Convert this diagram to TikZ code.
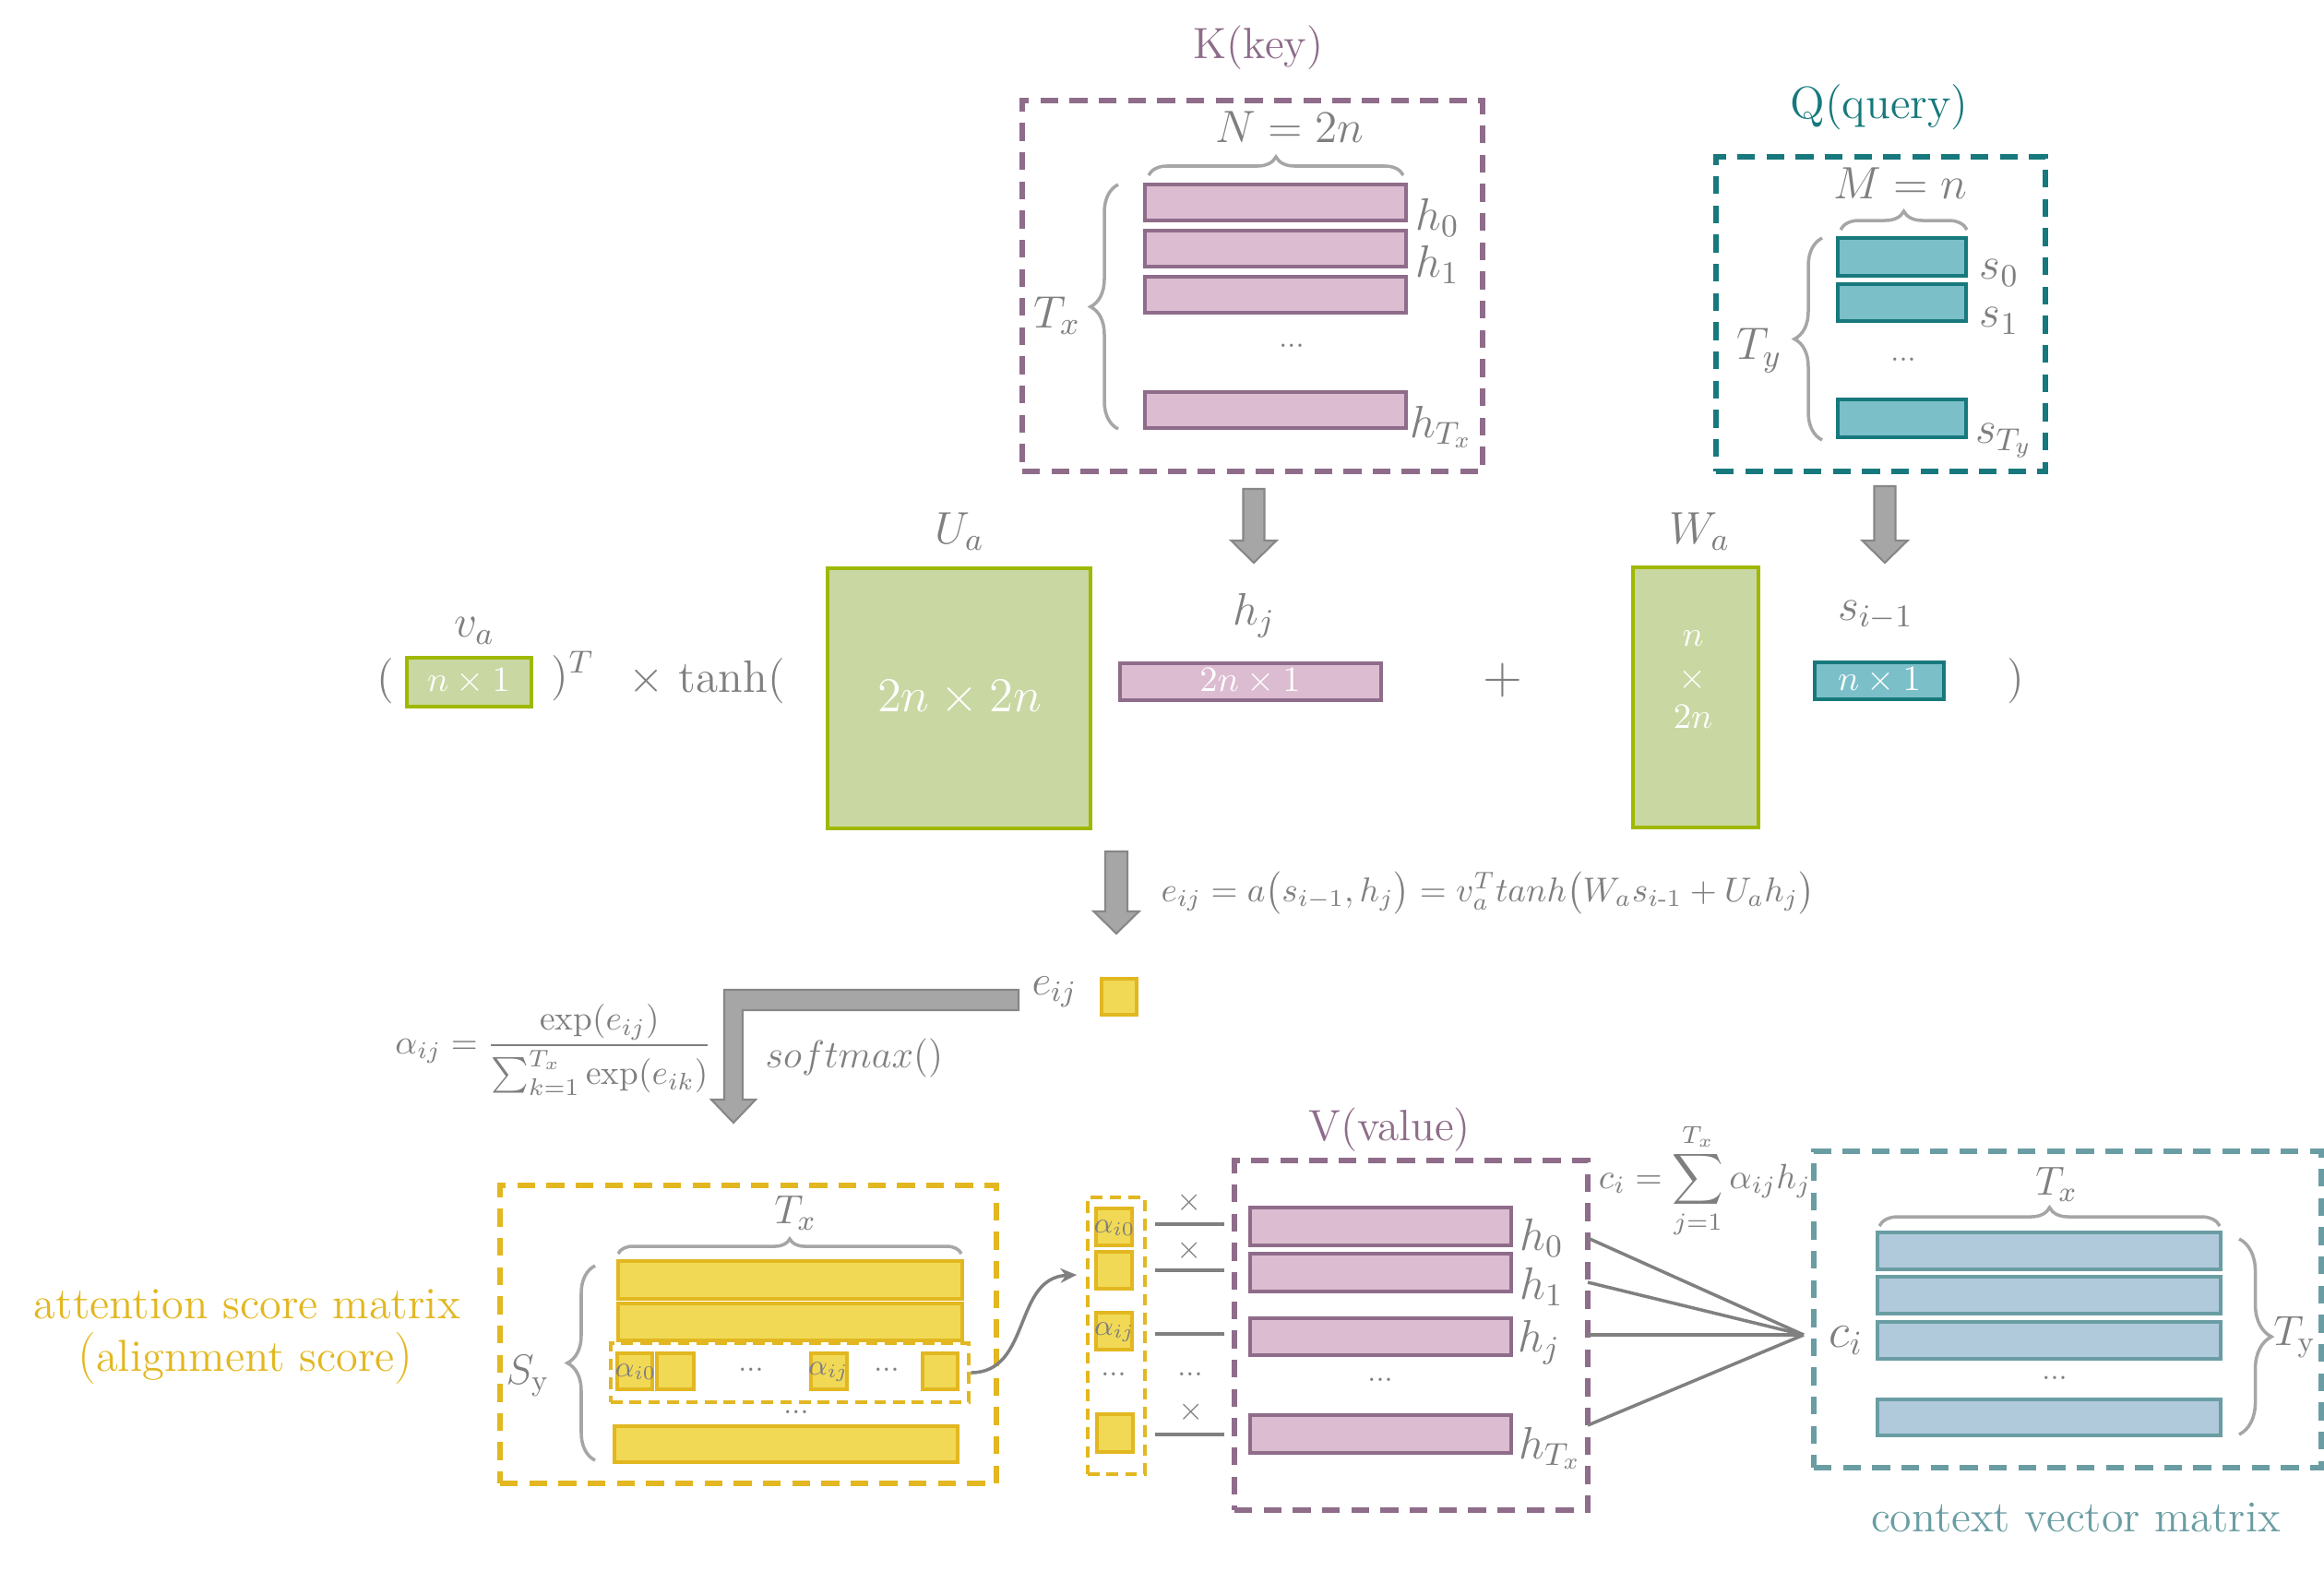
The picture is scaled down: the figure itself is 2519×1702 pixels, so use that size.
\RequirePackage{fix-cm}
\documentclass[tikz,border=0pt]{standalone}
\usepackage{amsmath}
\usepackage{fontspec}
\usetikzlibrary{fit,decorations.pathreplacing,arrows.meta}
\definecolor{txtgray}{HTML}{7F7F7F}
\definecolor{kpurple}{HTML}{8E6C8A}
\definecolor{kpink}{HTML}{DCBCD0}
\definecolor{qteal}{HTML}{17797D}
\definecolor{qfill}{HTML}{7BBFC9}
\definecolor{ggreen}{HTML}{9FB800}
\definecolor{gfill}{HTML}{C9D7A2}
\definecolor{yborder}{HTML}{E2B720}
\definecolor{yfill}{HTML}{F1D955}
\definecolor{cteal}{HTML}{6A9DA3}
\definecolor{cfill}{HTML}{B0CADB}
\definecolor{arrgray}{HTML}{A6A6A6}
\definecolor{arredge}{HTML}{878787}
\definecolor{bracegray}{HTML}{A6A6A6}
\definecolor{linegray}{HTML}{808080}
\newcommand\fsz[1]{\fontsize{#1}{#1}\selectfont}
\begin{document}
\begin{tikzpicture}[x=0.01cm,y=-0.01cm,
  lbl/.style={text=txtgray,inner sep=0pt},
  dboxk/.style={draw=kpurple,line width=1.5pt,dash pattern=on 5.5pt off 3.5pt,inner sep=0pt},
  dboxq/.style={draw=qteal,line width=1.5pt,dash pattern=on 5.5pt off 3.5pt,inner sep=0pt},
  dboxy/.style={draw=yborder,line width=1.5pt,dash pattern=on 5.5pt off 3.5pt,inner sep=0pt},
  dboxys/.style={draw=yborder,line width=1.3pt,dash pattern=on 3.6pt off 2.2pt,inner sep=0pt},
  dboxc/.style={draw=cteal,line width=1.5pt,dash pattern=on 5.5pt off 3.5pt,inner sep=0pt},
  krow/.style={draw=kpurple,fill=kpink,line width=1pt,inner sep=0pt},
  qrow/.style={draw=qteal,fill=qfill,line width=1pt,inner sep=0pt},
  gbox/.style={draw=ggreen,fill=gfill,line width=1pt,inner sep=0pt},
  yrow/.style={draw=yborder,fill=yfill,line width=1pt,inner sep=0pt},
  crow/.style={draw=cteal,fill=cfill,line width=1pt,inner sep=0pt},
  wtxt/.style={text=white,inner sep=0pt,font=\fsz{11}},
  brc/.style={draw=bracegray,line width=1pt,decorate,decoration={brace,amplitude=#1}},
  barrow/.style={fill=arrgray,draw=arredge,line width=0.6pt},
  conn/.style={draw=linegray,line width=1pt},
  dotsl/.style={text=txtgray,inner sep=0pt,font=\fsz{9}}
]
\useasboundingbox (0,0) rectangle (2519,1702);

% ---------------- K (key) ----------------
\node[lbl,font=\fsz{13.5},text=kpurple] (ktitle) at (1364,52) {K(key)};
\node[dboxk,fit={(1108,109) (1607,511)}] (kbox) {};
\node[lbl,font=\fsz{14}] (kN) at (1398,138) {$N=2n$};
\draw[brc=0.2cm] (1245,190) -- (1521,190);
\node[krow,fit={(1241,200) (1524,239)}] (k0) {};
\node[krow,fit={(1241,250) (1524,289)}] (k1) {};
\node[krow,fit={(1241,300) (1524,339)}] (k2) {};
\node[krow,fit={(1241,425) (1524,464)}] (kT) {};
\node[dotsl] (kdots) at (1400,375) {...};
\node[lbl,font=\fsz{14}] (kh0) at (1558,236) {$h_0$};
\node[lbl,font=\fsz{14}] (kh1) at (1558,287) {$h_1$};
\node[lbl,font=\fsz{14}] (khT) at (1562,463) {$h_{T_x}$};
\draw[brc=0.3cm] (1212,465) -- (1212,200);
\node[lbl,font=\fsz{14}] (kTx) at (1146,342) {$T_x$};

% ---------------- Q (query) ----------------
\node[lbl,font=\fsz{14},text=qteal] (qtitle) at (2037,116) {Q(query)};
\node[dboxq,fit={(1860,170) (2217,511)}] (qbox) {};
\node[lbl,font=\fsz{14}] (qM) at (2060,199) {$M=n$};
\draw[brc=0.2cm] (1995,249) -- (2132,249);
\node[qrow,fit={(1992,258) (2131,299)}] (q0) {};
\node[qrow,fit={(1992,308) (2131,348)}] (q1) {};
\node[qrow,fit={(1992,433) (2131,474)}] (qT) {};
\node[dotsl] (qdots) at (2063,390) {...};
\node[lbl,font=\fsz{14}] (qs0) at (2167,296) {$s_0$};
\node[lbl,font=\fsz{14}] (qs1) at (2167,348) {$s_1$};
\node[lbl,font=\fsz{14}] (qsT) at (2172,478) {$s_{T_y}$};
\draw[brc=0.3cm] (1975,477) -- (1975,258);
\node[lbl,font=\fsz{14}] (qTy) at (1907,380) {$T_y$};

% ---------------- block arrows ----------------
\path[barrow] (1347.5,530) -- (1370.5,530) -- (1370.5,586) -- (1383.5,586) -- (1359,610) -- (1334.5,586) -- (1347.5,586) -- cycle;
\path[barrow] (2031.5,527) -- (2054.5,527) -- (2054.5,586) -- (2067.5,586) -- (2043,610) -- (2018.5,586) -- (2031.5,586) -- cycle;
\path[barrow] (1198,923) -- (1222,923) -- (1222,988) -- (1234.5,988) -- (1210,1012) -- (1185.5,988) -- (1198,988) -- cycle;
\path[barrow] (1104,1073) -- (785,1073) -- (785,1192) -- (771,1192) -- (795,1217) -- (819,1192) -- (805,1192) -- (805,1095) -- (1104,1095) -- cycle;

% ---------------- score expression ----------------
\node[lbl,font=\fsz{14}] (lpar) at (418,738) {(};
\node[lbl,font=\fsz{14}] (vlab) at (514,684) {$v_a$};
\node[gbox,fit={(441,713) (576,766)}] (va) {};
\node[wtxt] (vat) at (508,739) {$n\times 1$};
\node[lbl,font=\fsz{14}] (rparT) at (621,733) {)$^T$};
\node[lbl,font=\fsz{14}] (tanh) at (766,738) {$\times$ tanh(};
\node[lbl,font=\fsz{14}] (ulab) at (1040,576) {$U_a$};
\node[gbox,fit={(897,616) (1182,898)}] (ua) {};
\node[text=white,inner sep=0pt,font=\fsz{15}] (uat) at (1040,757) {$2n\times 2n$};
\node[lbl,font=\fsz{14}] (hjlab) at (1359,667) {$h_j$};
\node[krow,fit={(1214,719) (1497,759)}] (hj) {};
\node[wtxt] (hjt) at (1355,739) {$2n\times 1$};
\node[lbl,font=\fsz{16}] (plus) at (1629,737) {$+$};
\node[lbl,font=\fsz{14}] (wlab) at (1842,576) {$W_a$};
\node[gbox,fit={(1770,615) (1906,897)}] (wa) {};
\node[wtxt] (wa1) at (1835,692) {$n$};
\node[wtxt] (wa2) at (1835,737) {$\times$};
\node[wtxt] (wa3) at (1835,777) {$2n$};
\node[lbl,font=\fsz{14}] (slab) at (2033,667) {$s_{i-1}$};
\node[qrow,fit={(1967,718) (2107,758)}] (si) {};
\node[wtxt] (sit) at (2037,738) {$n\times 1$};
\node[lbl,font=\fsz{14}] (rpar) at (2185,738) {)};

\node[lbl,font=\fsz{10.6},anchor=west] (eeq) at (1258,968)
  {$e_{ij}=a\bigl(s_{i-1},h_j\bigr)=v_a^{T}tanh\bigl(W_a s_{i\text{-}1}+U_a h_j\bigr)$};

% ---------------- softmax ----------------
\node[lbl,font=\fsz{10.6}] (alpha) at (600,1138)
  {$\alpha_{ij}=\dfrac{\exp(e_{ij})}{\textstyle\sum_{k=1}^{T_x}\exp(e_{ik})}$};
\node[lbl,font=\fsz{12}] (softmax) at (926,1147) {$softmax()$};
\node[lbl,font=\fsz{13}] (eijlab) at (1143,1075) {$e_{ij}$};
\node[yrow,fit={(1194,1061) (1232,1100)}] (esq) {};

% ---------------- attention score matrix ----------------
\node[inner sep=0pt,text=yborder,font=\fsz{13.8}] (atxt1) at (268,1414) {attention score matrix};
\node[inner sep=0pt,text=yborder,font=\fsz{13.8}] (atxt2) at (266,1472) {{\fsz{16}(}alignment score{\fsz{16})}};
\node[dboxy,fit={(542,1285) (1080,1608)}] (abox) {};
\node[lbl,font=\fsz{12.5}] (aTx) at (862,1315) {$T_x$};
\draw[brc=0.16cm] (670,1359) -- (1042,1359);
\node[yrow,fit={(670,1367) (1043,1408)}] (a0) {};
\node[yrow,fit={(670,1413) (1043,1453)}] (a1) {};
\node[dboxys,fit={(662,1456) (1050,1520)}] (arow) {};
\node[yrow,fit={(669,1467) (707,1506)}] (ac0) {};
\node[lbl,font=\fsz{9}] (ac0t) at (689,1487) {$\alpha_{i0}$};
\node[yrow,fit={(712,1467) (752,1506)}] (ac1) {};
\node[dotsl] (acd1) at (814,1485) {...};
\node[yrow,fit={(879,1467) (918,1506)}] (acj) {};
\node[lbl,font=\fsz{9}] (acjt) at (898,1487) {$\alpha_{ij}$};
\node[dotsl] (acd2) at (961,1485) {...};
\node[yrow,fit={(1000,1467) (1038,1506)}] (acL) {};
\node[dotsl] (adots) at (863,1531) {...};
\node[yrow,fit={(666,1546) (1038,1585)}] (aL) {};
\draw[brc=0.3cm] (645,1583) -- (645,1372);
\node[lbl,font=\fsz{13}] (aSy) at (572,1492) {$S_{\mathrm{y}}$};

% ---------------- alpha column ----------------
\coordinate (ctip) at (1167,1382);
\draw[conn,-{Stealth[length=5pt,width=4.5pt]}] (arow.east) .. controls (1118,1488) and (1098,1385) .. (ctip);
\node[dboxys,fit={(1179,1298) (1241,1598)}] (colbox) {};
\node[yrow,fit={(1188,1310) (1227,1350)}] (cv0) {};
\node[lbl,font=\fsz{9}] (cv0t) at (1208,1331) {$\alpha_{i0}$};
\node[yrow,fit={(1188,1357) (1227,1397)}] (cv1) {};
\node[yrow,fit={(1188,1423) (1227,1463)}] (cvj) {};
\node[lbl,font=\fsz{9}] (cvjt) at (1208,1444) {$\alpha_{ij}$};
\node[dotsl] (cvd) at (1207,1490) {...};
\node[yrow,fit={(1189,1533) (1228,1574)}] (cvL) {};
\node[lbl,font=\fsz{10}] (x0) at (1289,1304) {$\times$};
\node[lbl,font=\fsz{10}] (x1) at (1289,1356) {$\times$};
\node[lbl,font=\fsz{10}] (x3) at (1291,1531) {$\times$};
\node[dotsl] (xd) at (1290,1490) {...};
\coordinate (m0a) at (1252,1327); \coordinate (m0b) at (1327,1327);
\coordinate (m1a) at (1252,1377); \coordinate (m1b) at (1327,1377);
\coordinate (m2a) at (1252,1446); \coordinate (m2b) at (1327,1446);
\coordinate (m3a) at (1252,1555); \coordinate (m3b) at (1327,1555);
\draw[conn] (m0a) -- (m0b);
\draw[conn] (m1a) -- (m1b);
\draw[conn] (m2a) -- (m2b);
\draw[conn] (m3a) -- (m3b);

% ---------------- V (value) ----------------
\node[lbl,font=\fsz{13.5},text=kpurple] (vtitle) at (1506,1225) {V(value)};
\node[dboxk,fit={(1338,1258) (1721,1637)}] (vbox) {};
\node[krow,fit={(1355,1309) (1638,1350)}] (v0) {};
\node[krow,fit={(1355,1359) (1638,1400)}] (v1) {};
\node[krow,fit={(1355,1429) (1638,1469)}] (vj) {};
\node[krow,fit={(1355,1534) (1638,1575)}] (vT) {};
\node[dotsl] (vdots) at (1496,1496) {...};
\node[lbl,font=\fsz{14}] (vh0) at (1671,1342) {$h_0$};
\node[lbl,font=\fsz{14}] (vh1) at (1671,1395) {$h_1$};
\node[lbl,font=\fsz{14}] (vhj) at (1668,1455) {$h_j$};
\node[lbl,font=\fsz{14}] (vhT) at (1680,1570) {$h_{T_x}$};
\coordinate (conv) at (1955,1447);
\coordinate (e0) at (1721,1342);
\coordinate (e1) at (1721,1390);
\coordinate (e2) at (1721,1447);
\coordinate (e3) at (1721,1545);
\draw[conn] (e0) -- (conv);
\draw[conn] (e1) -- (conv);
\draw[conn] (e2) -- (conv);
\draw[conn] (e3) -- (conv);
\node[lbl,font=\fsz{10.8}] (cieq) at (1848,1280) {$\displaystyle c_i=\sum_{j=1}^{T_x}\alpha_{ij}h_j$};

% ---------------- context vector matrix ----------------
\node[dboxc,fit={(1966,1248) (2516,1591)}] (cbox) {};
\node[lbl,font=\fsz{12.5}] (cTx) at (2229,1284) {$T_x$};
\draw[brc=0.2cm] (2037,1329) -- (2406,1329);
\node[crow,fit={(2035,1336) (2407,1376)}] (c0) {};
\node[crow,fit={(2035,1384) (2407,1424)}] (c1) {};
\node[crow,fit={(2035,1433) (2407,1473)}] (c2) {};
\node[dotsl] (cdots) at (2227,1494) {...};
\node[crow,fit={(2035,1517) (2407,1556)}] (cL) {};
\node[lbl,font=\fsz{15}] (cci) at (2001,1453) {$c_i$};
\draw[brc=0.35cm] (2427,1343) -- (2427,1555);
\node[lbl,font=\fsz{13}] (cTy) at (2487,1450) {$T_{\mathrm{y}}$};
\node[inner sep=0pt,text=cteal,font=\fsz{13.6}] (ctxt) at (2250,1645) {context vector matrix};
\end{tikzpicture}
\end{document}
